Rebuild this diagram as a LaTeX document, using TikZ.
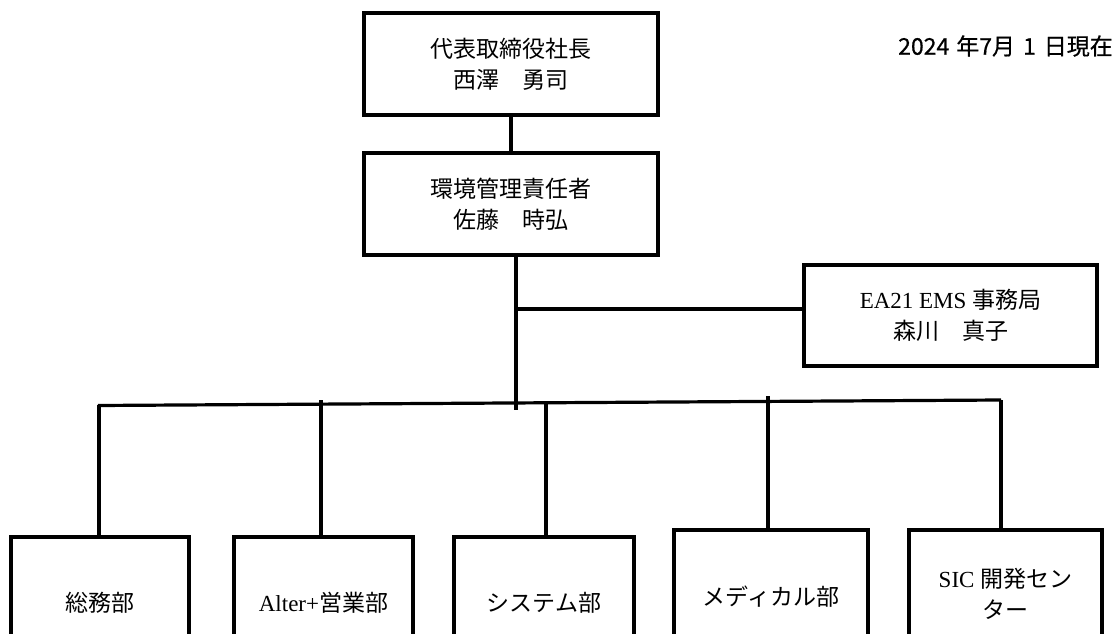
\documentclass[tikz,border=0pt]{standalone}
\usepackage{fontspec}
\newfontfamily\cjk{Noto Sans CJK JP}
\newfontfamily\cjkdate[FakeBold=0.6]{Noto Sans CJK JP}
\newfontfamily\eaf{Liberation Serif}
\begin{document}
\begin{tikzpicture}[x=1pt,y=-1pt,
  orgbox/.style={draw=black, line width=3.2pt, rectangle, inner sep=0pt, align=center,
    font=\fontsize{23}{31}\selectfont},
  conn/.style={draw=black, line width=3.2pt}]
\useasboundingbox (0,0) rectangle (1120,634);
\clip (0,0) rectangle (1120,634);
\fill[white] (0,0) rectangle (1120,634);
% top boxes
\node[orgbox, minimum width=294pt, minimum height=102pt] (ceo) at (511,64)
  {\raisebox{-4pt}{\parbox{280pt}{\centering\cjk 代表取締役社長\\西澤　勇司}}};
\node[orgbox, minimum width=294pt, minimum height=102pt] (env) at (511,204)
  {\raisebox{-4pt}{\parbox{280pt}{\centering\cjk 環境管理責任者\\佐藤　時弘}}};
\node[orgbox, minimum width=293pt, minimum height=101pt] (ea) at (950.5,315.5)
  {\raisebox{2pt}{\parbox{280pt}{\centering{\eaf EA21 EMS }{\cjk 事務局}\\{\cjk 森川　真子}}}};
% date
\node[anchor=east, inner sep=0pt, font=\cjkdate\fontsize{23}{26}\selectfont] (date) at (1113,46)
  {2024\hspace{7pt}年7月\hspace{8pt}1\hspace{8pt}日現在};
% bottom boxes
\node[orgbox, minimum width=178pt, minimum height=132pt] (b1) at (100,603) {\cjk 総務部};
\node[orgbox, minimum width=179pt, minimum height=132pt] (b2) at (323.5,603) {{\eaf Alter+}{\cjk 営業部}};
\node[orgbox, minimum width=180pt, minimum height=132pt] (b3) at (544,603) {\cjk システム部};
\node[orgbox, minimum width=194pt, minimum height=134pt] (b4) at (771,597) {\cjk メディカル部};
\node[orgbox, minimum width=193pt, minimum height=127pt] (b5) at (1005.5,593.5)
  {\parbox{180pt}{\centering{\eaf SIC }{\cjk 開発セン}\\{\cjk ター}}};
% connectors
\draw[conn, line width=4pt] (ceo.south) -- (env.north);
\coordinate (tb) at (516,410);
\coordinate (j1) at (516,309);
\draw[conn] (env.south -| tb) -- (tb);
\draw[conn] (j1) -- (j1 -| ea.west);
\coordinate (bl) at (98,405.5);
\coordinate (br) at (1001,400);
\draw[conn] (bl) -- (br);
\coordinate (t1) at (99,405);
\coordinate (t2) at (321,400);
\coordinate (t3) at (546,401);
\coordinate (t4) at (768,396);
\coordinate (t5) at (1001,400);
\draw[conn] (t1) -- (t1 |- b1.north);
\draw[conn] (t2) -- (t2 |- b2.north);
\draw[conn] (t3) -- (t3 |- b3.north);
\draw[conn] (t4) -- (t4 |- b4.north);
\draw[conn] (t5) -- (t5 |- b5.north);
\end{tikzpicture}
\end{document}
